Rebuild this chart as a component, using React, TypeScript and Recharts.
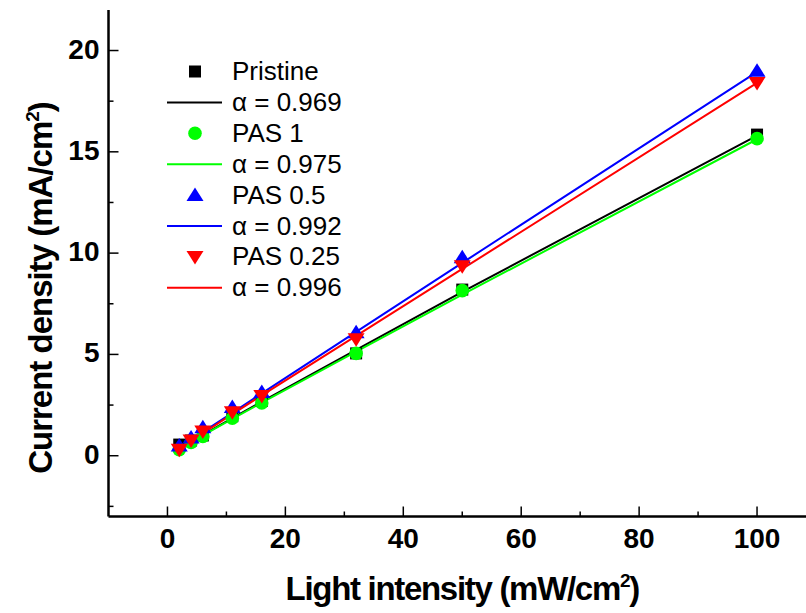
import React from 'react'
import { ComposedChart, Scatter, Line, XAxis, YAxis, Customized } from 'recharts'

// light intensity (mW/cm2) of each measurement
const intensity = [2, 4, 6, 11, 16, 32, 50, 100]

const seriesNames = ['Pristine', 'PAS 1', 'PAS 0.5', 'PAS 0.25']
const alphaLabels = ['α = 0.969', 'α = 0.975', 'α = 0.992', 'α = 0.996']

// measured current density (mA/cm2)
const pristineJ = [0.55, 0.75, 1.0, 1.95, 2.7, 5.05, 8.2, 15.85]
const pas1J = [0.3, 0.65, 0.95, 1.85, 2.6, 5.05, 8.15, 15.65]
const pas05J = [0.5, 0.9, 1.4, 2.4, 3.15, 6.1, 9.8, 19.0]
const pas025J = [0.3, 0.75, 1.2, 2.15, 2.95, 5.75, 9.35, 18.4]

// fitted lines
const pristineFit = [0.36, 0.7, 1.03, 1.86, 2.67, 5.22, 8.09, 15.8]
const pas1Fit = [0.35, 0.68, 1.01, 1.82, 2.62, 5.14, 7.95, 15.62]
const pas05Fit = [0.39, 0.78, 1.17, 2.12, 3.08, 6.11, 9.52, 18.95]
const pas025Fit = [0.37, 0.74, 1.11, 2.05, 2.98, 5.92, 9.22, 18.4]

const xTicks = [0, 10, 20, 30, 40, 50, 60, 70, 80, 90, 100]
const yTicks = [-2.5, 0, 2.5, 5, 7.5, 10, 12.5, 15, 17.5, 20]

const measured = [pristineJ, pas1J, pas05J, pas025J]
const fits = [pristineFit, pas1Fit, pas05Fit, pas025Fit]

const COLORS = ['#000000', '#00ff00', '#0000ff', '#ff0000']
const SHAPES = ['square', 'circle', 'up', 'down']
const FONT = "'Liberation Sans', Arial, Helvetica, sans-serif"

const toPoints = (ys: number[]) => intensity.map((x, i) => ({ x, y: ys[i] }))

function Marker({ kind, cx, cy, color }: { kind: string; cx: number; cy: number; color: string }) {
  if (kind === 'square') return <rect x={cx - 6} y={cy - 6} width={12} height={12} fill={color} />
  if (kind === 'circle') return <circle cx={cx} cy={cy} r={6.8} fill={color} />
  if (kind === 'up')
    return <polygon points={`${cx},${cy - 7.5} ${cx + 8.5},${cy + 6} ${cx - 8.5},${cy + 6}`} fill={color} />
  return <polygon points={`${cx - 8.5},${cy - 6} ${cx + 8.5},${cy - 6} ${cx},${cy + 7.5}`} fill={color} />
}

function XTick(props: any) {
  const { x, y, payload } = props
  const major = payload.value % 20 === 0
  return (
    <g>
      <line x1={x} x2={x} y1={y} y2={y - (major ? 10 : 5)} stroke="#000" strokeWidth={1.5} />
      {major && (
        <text x={x} y={y + 31} textAnchor="middle" fontFamily={FONT} fontWeight="bold" fontSize={28} fill="#000">
          {payload.value}
        </text>
      )}
    </g>
  )
}

function YTick(props: any) {
  const { x, y, payload } = props
  const major = payload.value % 5 === 0
  return (
    <g>
      <line x1={x} x2={x + (major ? 10 : 5)} y1={y} y2={y} stroke="#000" strokeWidth={1.5} />
      {major && (
        <text x={x - 9} y={y + 8} textAnchor="end" fontFamily={FONT} fontWeight="bold" fontSize={28} fill="#000">
          {payload.value}
        </text>
      )}
    </g>
  )
}

function XTitle(props: any) {
  const vb = props.viewBox
  return (
    <text
      x={vb.x + vb.width / 2}
      y={vb.y + 83}
      textAnchor="middle"
      fontFamily={FONT}
      fontWeight="bold"
      fontSize={33}
      letterSpacing={-1.3}
      fill="#000"
    >
      Light intensity (mW/cm<tspan fontSize={19} dy={-13}>2</tspan>
      <tspan dy={13}>)</tspan>
    </text>
  )
}

function YTitle(props: any) {
  const vb = props.viewBox
  const cx = vb.x + 43.5
  const cy = 288
  return (
    <text
      x={cx}
      y={cy}
      transform={`rotate(-90 ${cx} ${cy})`}
      textAnchor="middle"
      fontFamily={FONT}
      fontWeight="bold"
      fontSize={33}
      letterSpacing={-1}
      fill="#000"
    >
      Current density (mA/cm<tspan fontSize={19} dy={-13}>2</tspan>
      <tspan dy={13}>)</tspan>
    </text>
  )
}

function LegendBlock() {
  return (
    <g fontFamily={FONT} fontSize={26} fill="#000">
      {seriesNames.map((name, i) => {
        const base = 80 + i * 61.8
        const lineBase = base + 30.9
        return (
          <g key={name}>
            <Marker kind={SHAPES[i]} cx={195} cy={base - 8.5} color={COLORS[i]} />
            <text x={232} y={base}>{name}</text>
            <line x1={167} x2={222} y1={lineBase - 8.5} y2={lineBase - 8.5} stroke={COLORS[i]} strokeWidth={2} />
            <text x={232} y={lineBase}>{alphaLabels[i]}</text>
          </g>
        )
      })}
    </g>
  )
}

export default function App() {
  return (
    <div style={{ position: 'fixed', left: 0, top: 0, width: 806, height: 613, overflow: 'hidden', background: '#fff' }}>
      <ComposedChart width={830} height={613} margin={{ top: 10, right: 14, bottom: 6.5, left: 8.5 }}>
        <XAxis
          type="number"
          dataKey="x"
          domain={[-10, 110]}
          ticks={xTicks}
          interval={0}
          allowDataOverflow
          tickSize={0}
          tickMargin={0}
          tickLine={false}
          tick={<XTick />}
          axisLine={{ stroke: '#000', strokeWidth: 2.5 }}
          height={90}
          label={XTitle}
        />
        <XAxis
          xAxisId="top"
          orientation="top"
          type="number"
          domain={[-10, 110]}
          height={0}
          tick={false}
          tickLine={false}
          axisLine={{ stroke: '#000', strokeWidth: 2.5 }}
        />
        <YAxis
          type="number"
          dataKey="y"
          domain={[-3, 22]}
          ticks={yTicks}
          interval={0}
          allowDataOverflow
          tickSize={0}
          tickMargin={0}
          tickLine={false}
          tick={<YTick />}
          axisLine={{ stroke: '#000', strokeWidth: 2.5 }}
          width={100}
          label={YTitle}
        />
        {seriesNames.map((name, i) => [
          <Scatter
            key={`s-${name}`}
            name={name}
            data={toPoints(measured[i])}
            dataKey="y"
            isAnimationActive={false}
            shape={(p: any) => <Marker kind={SHAPES[i]} cx={p.cx} cy={p.cy} color={COLORS[i]} />}
          />,
          <Line
            key={`l-${name}`}
            name={alphaLabels[i]}
            data={toPoints(fits[i])}
            dataKey="y"
            type="linear"
            stroke={COLORS[i]}
            strokeWidth={2}
            dot={false}
            activeDot={false}
            isAnimationActive={false}
          />,
        ])}
        <Customized component={LegendBlock} />
      </ComposedChart>
    </div>
  )
}
